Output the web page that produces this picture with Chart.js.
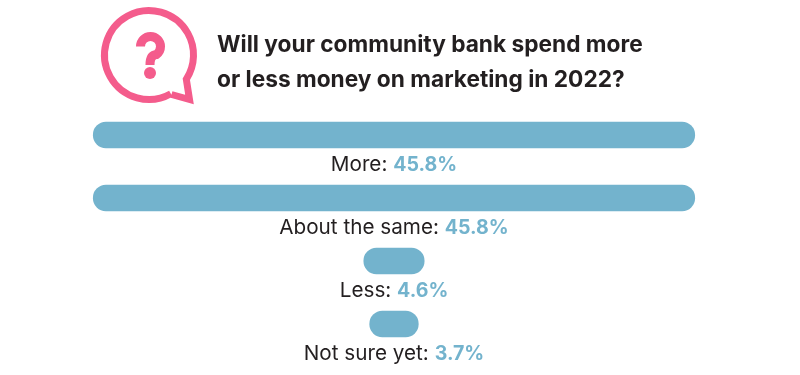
<!DOCTYPE html>
<html>
<head>
<meta charset="utf-8">
<script src="https://cdn.jsdelivr.net/npm/chart.js@4/dist/chart.umd.min.js"></script>
<style>
  html, body { margin: 0; padding: 0; background: #fff; }
  canvas { display: block; }
</style>
</head>
<body>
<canvas id="poll" width="800" height="375"></canvas>
<script>
const TITLE_LINES = ['Will your community bank spend more', 'or less money on marketing in 2022?'];
const CATEGORIES = ['More', 'About the same', 'Less', 'Not sure yet'];
const VALUES = [45.8, 45.8, 4.6, 3.7];

const BAR_COLOR = '#73b3cd';
const PINK = '#f45c8c';
const INK = '#231f20';
const FONT = 'Inter, "Noto Sans", sans-serif';

// speech bubble + question mark, top left
const iconPlugin = {
  id: 'icon',
  afterDraw(chart) {
    const ctx = chart.ctx;
    ctx.save();
    ctx.strokeStyle = PINK;
    ctx.fillStyle = PINK;
    ctx.lineWidth = 7;
    ctx.lineJoin = 'miter';
    ctx.miterLimit = 10;
    ctx.beginPath();
    ctx.arc(149, 55, 44.5, 60.6 * Math.PI / 180, 33 * Math.PI / 180);
    ctx.lineTo(189.5, 99.5);
    ctx.lineTo(171.5, 94.5);
    ctx.stroke();
    ctx.lineWidth = 9;
    ctx.lineCap = 'butt';
    ctx.beginPath();
    ctx.arc(150.5, 46.5, 10, Math.PI, 0.3 * Math.PI);
    ctx.quadraticCurveTo(150, 55, 150, 65);
    ctx.stroke();
    ctx.beginPath();
    ctx.arc(150, 73, 6, 0, Math.PI * 2);
    ctx.fill();
    ctx.restore();
  }
};

// title and the "Label: value%" line under each bar
const textPlugin = {
  id: 'texts',
  afterDraw(chart) {
    const ctx = chart.ctx;
    ctx.save();
    ctx.textBaseline = 'alphabetic';
    ctx.textAlign = 'left';
    ctx.fillStyle = INK;
    ctx.font = '700 22.7px ' + FONT;
    TITLE_LINES.forEach((line, i) => ctx.fillText(line, 217, 52 + i * 35));

    const bars = chart.getDatasetMeta(0).data;
    CATEGORIES.forEach((cat, i) => {
      const label = cat + ': ';
      const val = VALUES[i].toFixed(1) + '%';
      ctx.font = '400 20.7px ' + FONT;
      const w1 = ctx.measureText(label).width;
      ctx.font = '700 19.6px ' + FONT;
      const w2 = ctx.measureText(val).width;
      const x = bars[i].x - (bars[i].x - bars[i].base) / 2 - (w1 + w2) / 2;
      const y = bars[i].y + 36;
      ctx.font = '400 20.7px ' + FONT;
      ctx.fillStyle = INK;
      ctx.fillText(label, x, y);
      ctx.font = '700 19.6px ' + FONT;
      ctx.fillStyle = BAR_COLOR;
      ctx.fillText(val, x + w1, y);
    });
    ctx.restore();
  }
};

new Chart(document.getElementById('poll'), {
  type: 'bar',
  data: {
    labels: CATEGORIES,
    datasets: [{
      data: VALUES.map(v => [-v / 2, v / 2]),
      backgroundColor: BAR_COLOR,
      borderRadius: 13,
      borderSkipped: false,
      barThickness: 26
    }]
  },
  options: {
    indexAxis: 'y',
    responsive: false,
    animation: false,
    layout: { padding: { top: 103.5, bottom: 19.5, left: 0, right: 12 } },
    plugins: { legend: { display: false }, tooltip: { enabled: false }, title: { display: false } },
    scales: {
      x: { min: -30, max: 30, display: false },
      y: { display: false }
    }
  },
  plugins: [iconPlugin, textPlugin]
});
</script>
</body>
</html>
